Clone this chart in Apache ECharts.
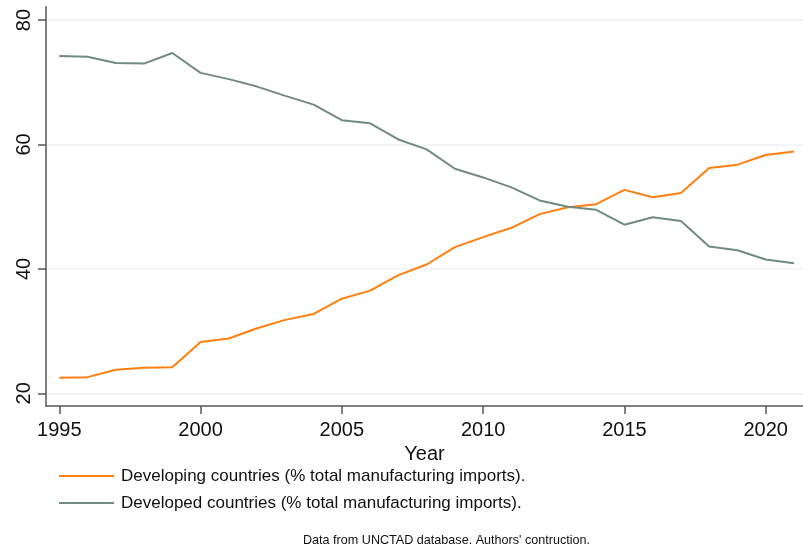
<!DOCTYPE html>
<html>
<head>
<meta charset="utf-8">
<script src="https://cdn.jsdelivr.net/npm/echarts@6/dist/echarts.min.js"></script>
<style>html,body{margin:0;padding:0;background:#fff}#c{width:803px;height:551px}</style>
</head>
<body>
<div id="c"></div>
<script>
const years = [1995,1996,1997,1998,1999,2000,2001,2002,2003,2004,2005,2006,2007,2008,2009,2010,2011,2012,2013,2014,2015,2016,2017,2018,2019,2020,2021];
const developing = [22.5,22.6,23.8,24.1,24.2,28.25,28.8,30.45,31.8,32.75,35.2,36.5,39.0,40.7,43.5,45.1,46.6,48.8,49.9,50.4,52.7,51.5,52.2,56.2,56.75,58.3,58.85];
const developed = [74.2,74.1,73.1,73.0,74.7,71.5,70.5,69.3,67.8,66.4,63.9,63.4,60.8,59.2,56.1,54.7,53.1,51.0,50.0,49.5,47.1,48.3,47.7,43.6,43.0,41.5,40.9];
const xTicks = [1995,2000,2005,2010,2015,2020];
const yTicks = [20,40,60,80];
const seriesNames = ['Developing countries (% total manufacturing imports).','Developed countries (% total manufacturing imports).'];
const xTitle = 'Year';
const caption = "Data from UNCTAD database. Authors' contruction.";

const chart = echarts.init(document.getElementById('c'), null, {renderer:'canvas'});
const font = 'Liberation Sans, Arial, sans-serif';
chart.setOption({
  animation:false,
  backgroundColor:'#ffffff',
  textStyle:{fontFamily:font},
  title:{text:caption,left:303,top:534,padding:0,textStyle:{fontSize:12.6,fontWeight:'normal',color:'#111',fontFamily:font}},
  legend:{
    orient:'vertical',left:59,top:466,padding:0,itemWidth:55,itemHeight:2,itemGap:7,icon:'rect',
    textStyle:{fontSize:17,color:'#111',lineHeight:20,padding:[0,0,0,2],fontFamily:font},
    data:seriesNames
  },
  grid:{left:46,right:0,top:6.7,bottom:145,containLabel:false},
  xAxis:{
    type:'value',min:1994.53,max:2021.32,
    name:xTitle,nameLocation:'middle',nameGap:36,
    nameTextStyle:{fontSize:20,color:'#111',fontFamily:font},
    axisLine:{show:true,onZero:false,lineStyle:{color:'#555',width:1.5}},
    axisTick:{show:true,length:8,customValues:xTicks,lineStyle:{color:'#555',width:1.5}},
    axisLabel:{fontSize:20,color:'#111',margin:14,customValues:xTicks,formatter:v=>String(v)},
    splitLine:{show:false}
  },
  yAxis:{
    type:'value',min:17.96,max:82.14,
    axisLine:{show:true,lineStyle:{color:'#555',width:1.5}},
    axisTick:{show:true,length:8,customValues:yTicks,lineStyle:{color:'#555',width:1.5}},
    axisLabel:{fontSize:20,color:'#111',margin:12,rotate:90,customValues:yTicks,formatter:v=>String(v)},
    splitLine:{show:true,lineStyle:{color:'#eef3f6',width:1.5}}
  },
  series:[
    {name:seriesNames[0],type:'line',symbol:'none',data:years.map((y,i)=>[y,developing[i]]),lineStyle:{color:'#ff7f0e',width:2},itemStyle:{color:'#ff7f0e'}},
    {name:seriesNames[1],type:'line',symbol:'none',data:years.map((y,i)=>[y,developed[i]]),lineStyle:{color:'#6f8c82',width:2},itemStyle:{color:'#6f8c82'}}
  ]
});
</script>
</body>
</html>
